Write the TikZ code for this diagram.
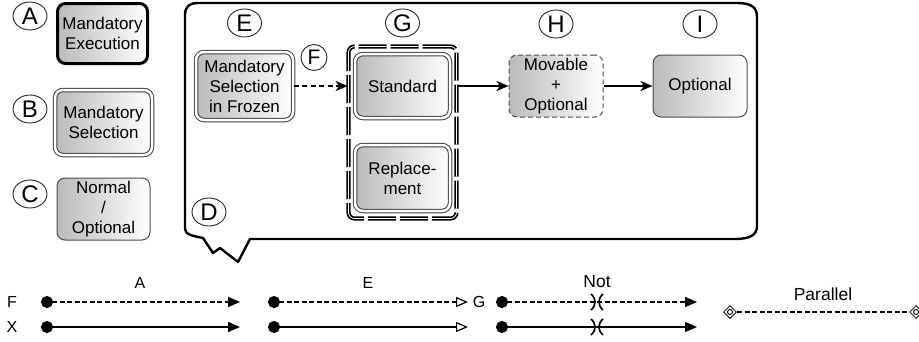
\documentclass[tikz,border=0pt]{standalone}
\usepackage{fontspec}
\setmainfont{Liberation Sans}
\usetikzlibrary{arrows.meta,shapes.geometric}
\begin{document}
\begin{tikzpicture}[x=1pt,y=-1pt,
  lbl/.style={draw=black!85, line width=0.9, ellipse, minimum width=34, minimum height=28, inner sep=0, font=\fontsize{24}{24}\selectfont},
  box/.style={rounded corners=8, left color=black!27, right color=white, align=center, font=\fontsize{17}{20}\selectfont, inner sep=0},
  mexec/.style={box, draw=black, line width=3, minimum width=90, minimum height=60},
  msel/.style={box, draw=black!75, line width=1, double=white, double distance=2.5},
  normal/.style={box, draw=black!70, line width=1, minimum width=93, minimum height=62},
  movable/.style={box, draw=black!70, line width=1, dash pattern=on 5 off 3, minimum width=94, minimum height=62},
  group/.style={draw=black, line width=1.7, double=white, double distance=0.8, dash pattern=on 28 off 4, rounded corners=6, minimum width=108, minimum height=172, inner sep=0},
  callout/.style={draw=black, line width=2.4, line join=round},
  flow/.style={draw=black, line width=2, -{Stealth[length=12,width=10,inset=3.5]}},
  leg/.style={line width=1.6, {Circle[length=12,width=12]}-{Triangle[length=12,width=10]}},
  legopen/.style={line width=1.6, {Circle[length=12,width=12]}-{Triangle[open,length=12,width=10,line width=1.2]}},
  ldash/.style={dash pattern=on 5 off 2.5},
  ltxt/.style={font=\fontsize{16}{16}\selectfont, inner sep=0},
  btxt/.style={font=\fontsize{17.5}{17.5}\selectfont, inner sep=0},
  dmd/.style={diamond, draw=black!85, line width=1, minimum width=13, minimum height=13, inner sep=0, fill=white},
  cross/.style={line width=1.6}
]
\useasboundingbox (0,0) rectangle (919,341);

% legend boxes
\node[lbl] (cA) at (30,16) {A};
\node[lbl] (cB) at (30,109) {B};
\node[lbl] (cC) at (30,194) {C};
\node[mexec] (bA) at (102.5,33.5) {Mandatory\\Execution};
\node[msel, minimum width=97, minimum height=65] (bB) at (103.5,122.5) {Mandatory\\Selection};
\node[normal] (bC) at (103.5,209) {Normal\\/\\Optional};

% callout
\draw[callout] (185,15) .. controls (185,6) and (190,3) .. (198,3) -- (737,3)
  .. controls (751,3) and (757,7) .. (757,17) -- (757,226)
  .. controls (757,235) and (750,239) .. (735,239) -- (250,239) -- (238,262)
  -- (220,248) -- (213,253) -- (203,238) .. controls (194,236) and (185,235) .. (185,229) -- cycle;
\node[lbl] (cD) at (209,212) {D};

% flow
\node[lbl] (cE) at (244.5,23) {E};
\node[lbl, minimum width=26, minimum height=26, font=\fontsize{21}{21}\selectfont] (cF) at (314,57.5) {F};
\node[lbl] (cG) at (402.5,23) {G};
\node[lbl] (cH) at (556,24) {H};
\node[lbl] (cI) at (700,24) {I};

\node[msel, minimum width=97, minimum height=68] (bE) at (244.5,86) {Mandatory\\Selection\\in Frozen};
\node[group] (gG) at (402.5,132.5) {};
\node[msel, minimum width=95, minimum height=64] (bS) at (402.5,86) {Standard};
\node[msel, minimum width=95, minimum height=66] (bR) at (402.5,178) {Replace-\\ment};
\node[movable] (bH) at (556,86) {Movable\\+\\Optional};
\node[normal, minimum width=94] (bI) at (700,86) {Optional};

\draw[flow, dash pattern=on 5 off 3.5] (bE.east) -- (bE.east -| gG.west);
\draw[flow] (gG.east |- bH.west) -- (bH.west);
\draw[flow] (bH.east) -- (bI.west);

% bottom legend
\node[ltxt] (tF) at (12,302) {F};
\node[ltxt] (tX) at (12,327) {X};
\node[ltxt] (tA) at (140,283) {A};
\node[ltxt] (tE) at (368,283) {E};
\node[ltxt] (tG) at (479,302) {G};
\node[btxt] (tN) at (597,282) {Not};
\node[btxt] (tP) at (823,294) {Parallel};

\coordinate (a1) at (41,302); \coordinate (a2) at (240,302);
\coordinate (a3) at (41,327); \coordinate (a4) at (240,327);
\draw[leg, ldash] (a1) -- (a2);
\draw[leg] (a3) -- (a4);

\coordinate (e1) at (268,302); \coordinate (e2) at (468,302);
\coordinate (e3) at (268,327); \coordinate (e4) at (468,327);
\draw[legopen, ldash] (e1) -- (e2);
\draw[legopen] (e3) -- (e4);

\coordinate (n1) at (496,302); \coordinate (n2) at (697,302);
\coordinate (n3) at (496,327); \coordinate (n4) at (697,327);
\draw[leg, ldash] (n1) -- (n2);
\draw[leg] (n3) -- (n4);
\coordinate (x1) at (597,302);
\coordinate (x2) at (597,327);
\foreach \c in {x1,x2}{
  \draw[cross] ([shift={(-6,-8)}]\c) .. controls ([shift={(-0.5,-3)}]\c) and ([shift={(-0.5,3)}]\c) .. ([shift={(-6,8)}]\c);
  \draw[cross] ([shift={(6,-8)}]\c) .. controls ([shift={(0.5,-3)}]\c) and ([shift={(0.5,3)}]\c) .. ([shift={(6,8)}]\c);
}

\node[dmd] (p1) at (730,312) {};
\node[dmd] (p2) at (916,312) {};
\draw[line width=1.5, ldash] (p1) -- (p2);
\draw[line width=0.9] (p1) circle (2.5);
\draw[line width=0.9] (p2) circle (2.5);
\end{tikzpicture}
\end{document}
